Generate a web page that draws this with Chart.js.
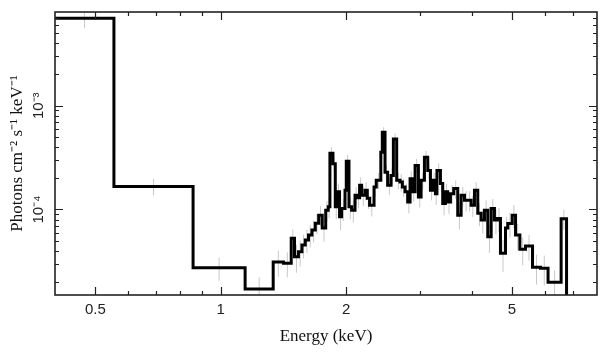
<!DOCTYPE html>
<html>
<head>
<meta charset="utf-8">
<script src="https://cdn.jsdelivr.net/npm/chart.js@4/dist/chart.umd.min.js"></script>
<style>
html,body{margin:0;padding:0;background:#fff;}
canvas{display:block;}
</style>
</head>
<body>
<canvas id="c" width="608" height="357"></canvas>
<script>
// Bin lower edges (keV)
const binLo = [0.40, 0.554, 0.858, 1.144, 1.336, 1.414, 1.476, 1.503, 1.536, 1.566,
  1.595, 1.624, 1.655, 1.686, 1.718, 1.752, 1.786, 1.811, 1.828, 1.859,
  1.883, 1.904, 1.928, 1.950, 1.987, 2.001, 2.031, 2.061, 2.100, 2.127,
  2.154, 2.178, 2.219, 2.247, 2.276, 2.333, 2.362, 2.422, 2.442, 2.479,
  2.515, 2.563, 2.596, 2.644, 2.693, 2.728, 2.769, 2.810, 2.847, 2.884,
  2.927, 2.981, 3.026, 3.082, 3.139, 3.186, 3.227, 3.275, 3.303, 3.367,
  3.410, 3.461, 3.505, 3.558, 3.624, 3.705, 3.775, 3.846, 3.917, 3.990,
  4.064, 4.139, 4.217, 4.295, 4.374, 4.457, 4.539, 4.615, 4.692, 4.824,
  4.886, 5.007, 5.100, 5.223, 5.389, 5.602, 5.855, 6.104, 6.561];
// Upper edge of the last bin (keV)
const lastEdge = 6.761;
// Photons cm^-2 s^-1 keV^-1 per bin
const flux = [6.98e-3, 1.67e-4, 2.74e-5, 1.71e-5, 3.12e-5, 3.04e-5, 5.27e-5, 3.51e-5, 3.92e-5, 4.55e-5,
  5.08e-5, 5.67e-5, 6.33e-5, 7.39e-5, 8.82e-5, 6.62e-5, 9.85e-5, 1.06e-4, 3.49e-4, 2.76e-4,
  1.06e-4, 1.48e-4, 8.50e-5, 1.02e-4, 1.53e-4, 2.92e-4, 1.06e-4, 9.85e-5, 1.37e-4, 1.30e-4,
  1.71e-4, 1.37e-4, 1.53e-4, 1.28e-4, 1.10e-4, 1.65e-4, 1.91e-4, 3.57e-4, 5.55e-4, 2.29e-4,
  1.71e-4, 2.13e-4, 4.79e-4, 1.91e-4, 1.84e-4, 1.65e-4, 1.48e-4, 1.18e-4, 1.98e-4, 1.48e-4,
  2.66e-4, 1.32e-4, 1.91e-4, 3.19e-4, 2.38e-4, 1.53e-4, 1.91e-4, 1.42e-4, 2.38e-4, 1.78e-4,
  1.14e-4, 1.48e-4, 1.18e-4, 1.42e-4, 1.59e-4, 8.82e-5, 1.37e-4, 1.23e-4, 1.23e-4, 1.10e-4,
  1.53e-4, 9.20e-5, 7.90e-5, 9.85e-5, 5.46e-5, 1.02e-4, 7.90e-5, 8.20e-5, 3.79e-5, 6.62e-5,
  7.34e-5, 8.82e-5, 5.67e-5, 4.14e-5, 4.45e-5, 2.78e-5, 2.72e-5, 1.99e-5, 8.16e-5];
// Relative 1-sigma error per bin
const relErr = [0.20, 0.18, 0.25, 0.30, 0.28, 0.27, 0.22, 0.30, 0.28, 0.26,
  0.25, 0.24, 0.24, 0.22, 0.22, 0.26, 0.22, 0.22, 0.14, 0.15,
  0.24, 0.20, 0.26, 0.24, 0.20, 0.15, 0.24, 0.24, 0.20, 0.21,
  0.19, 0.21, 0.20, 0.21, 0.22, 0.19, 0.18, 0.14, 0.12, 0.17,
  0.19, 0.18, 0.13, 0.18, 0.19, 0.20, 0.20, 0.22, 0.18, 0.20,
  0.16, 0.21, 0.18, 0.15, 0.17, 0.20, 0.18, 0.22, 0.17, 0.19,
  0.23, 0.20, 0.23, 0.21, 0.20, 0.27, 0.21, 0.22, 0.22, 0.23,
  0.20, 0.25, 0.26, 0.24, 0.30, 0.24, 0.27, 0.26, 0.34, 0.28,
  0.27, 0.25, 0.28, 0.30, 0.28, 0.32, 0.32, 0.30, 0.22];

const xMin = 0.4, xMax = 8, yMin = 1.5e-5, yMax = 8e-3;
const xMajor = [0.5, 1, 2, 5];
const xMajorLabels = ['0.5', '1', '2', '5'];
const xMinor = [0.6, 0.7, 0.8, 0.9, 3, 4, 6, 7];
const yMajor = [1e-4, 1e-3];
const yMajorLabels = ['10\u207B\u2074', '10\u207B\u00B3'];
const yMinor = [2e-5,3e-5,4e-5,5e-5,6e-5,7e-5,8e-5,9e-5,
                2e-4,3e-4,4e-4,5e-4,6e-4,7e-4,8e-4,9e-4,
                2e-3,3e-3,4e-3,5e-3,6e-3,7e-3];

// histogram points (step-before), then vertical drop at the end
const histPts = binLo.map((e, i) => ({x: e, y: flux[i]}));
histPts.push({x: lastEdge, y: flux[flux.length - 1]});
histPts.push({x: lastEdge, y: 1e-7});

// error bars: vertical segments at bin centres separated by gaps
const errPts = [];
binLo.forEach((e, i) => {
  const hi = i < binLo.length - 1 ? binLo[i + 1] : lastEdge;
  const c = Math.sqrt(e * hi);
  errPts.push({x: c, y: flux[i] * (1 - relErr[i])});
  errPts.push({x: c, y: flux[i] * (1 + relErr[i])});
  errPts.push({x: c, y: null});
});

const frameTicks = {
  id: 'frameTicks',
  afterDatasetsDraw(chart) {
    const {ctx, chartArea: a, scales: {x, y}} = chart;
    ctx.save();
    ctx.strokeStyle = '#222';
    ctx.lineWidth = 1.6;
    ctx.strokeRect(a.left, a.top, a.right - a.left, a.bottom - a.top);
    ctx.lineWidth = 1.2;
    ctx.beginPath();
    const xt = (v, len) => {
      const p = Math.round(x.getPixelForValue(v)) + 0.5;
      ctx.moveTo(p, a.bottom); ctx.lineTo(p, a.bottom - len);
      ctx.moveTo(p, a.top); ctx.lineTo(p, a.top + len);
    };
    const yt = (v, len) => {
      const p = Math.round(y.getPixelForValue(v)) + 0.5;
      ctx.moveTo(a.left, p); ctx.lineTo(a.left + len, p);
      ctx.moveTo(a.right, p); ctx.lineTo(a.right - len, p);
    };
    xMajor.forEach(v => xt(v, 8));
    xMinor.forEach(v => xt(v, 4));
    yMajor.forEach(v => yt(v, 8));
    yMinor.forEach(v => yt(v, 4));
    ctx.stroke();
    ctx.restore();
  }
};

new Chart(document.getElementById('c'), {
  type: 'line',
  data: {
    datasets: [
      {
        data: histPts,
        borderColor: '#000',
        borderWidth: 3,
        pointRadius: 0,
        stepped: 'before',
        fill: false,
        order: 0
      },
      {
        data: errPts,
        borderColor: '#c8c8c8',
        borderWidth: 1,
        pointRadius: 0,
        spanGaps: false,
        fill: false,
        order: 1
      }
    ]
  },
  options: {
    responsive: false,
    devicePixelRatio: 1,
    animation: false,
    events: [],
    layout: {padding: {top: 12, right: 11, left: 0, bottom: 0}},
    plugins: {legend: {display: false}, tooltip: {enabled: false}},
    scales: {
      x: {
        type: 'logarithmic',
        position: 'bottom',
        min: xMin, max: xMax,
        grid: {display: false, drawTicks: false},
        border: {display: false},
        afterBuildTicks: s => { s.ticks = xMajor.map(v => ({value: v})); },
        afterFit: s => { s.height = 62; },
        ticks: {
          autoSkip: false,
          maxRotation: 0, minRotation: 0,
          padding: 6,
          color: '#222',
          font: {family: 'Liberation Sans', size: 15},
          callback: (v) => { const i = xMajor.indexOf(v); return i >= 0 ? xMajorLabels[i] : ''; }
        },
        title: {
          display: true,
          text: 'Energy (keV)',
          color: '#111',
          font: {family: 'Liberation Serif', size: 17},
          padding: {top: 0, bottom: 10}
        }
      },
      y: {
        type: 'logarithmic',
        position: 'left',
        min: yMin, max: yMax,
        grid: {display: false, drawTicks: false},
        border: {display: false},
        afterBuildTicks: s => { s.ticks = yMajor.map(v => ({value: v})); },
        afterFit: s => { s.width = 55; },
        ticks: {
          autoSkip: false,
          minRotation: 90, maxRotation: 90,
          crossAlign: 'center',
          padding: 2,
          color: '#222',
          font: {family: 'Liberation Sans', size: 15},
          callback: (v) => { const i = yMajor.findIndex(m => Math.abs(m - v) / m < 1e-6); return i >= 0 ? yMajorLabels[i] : ''; }
        },
        title: {
          display: true,
          text: 'Photons cm\u207B\u00B2 s\u207B\u00B9 keV\u207B\u00B9',
          color: '#111',
          font: {family: 'Liberation Serif', size: 17},
          padding: {top: 7, bottom: 0}
        }
      }
    }
  },
  plugins: [frameTicks]
});
</script>
</body>
</html>
